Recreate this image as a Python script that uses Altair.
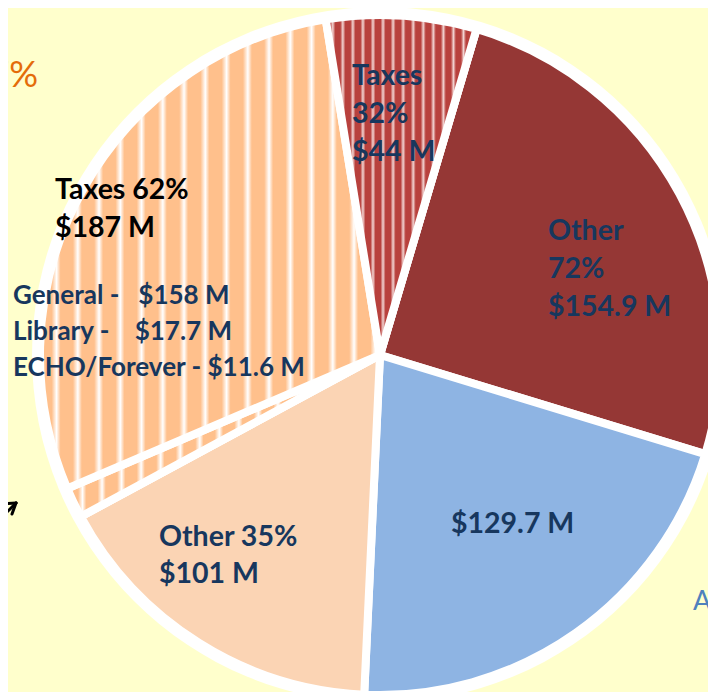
import math
import altair as alt
import pandas as pd

# ---- data (millions of dollars) ----
categories = ["Other 72%", "$129.7 M", "Other 35%", "ECHO/Forever", "Taxes 62%", "Taxes 32%"]
values = [154.9, 129.7, 101.0, 9.0, 178.0, 44.0]
solid_colors = ["#953735", "#8EB4E3", "#FBD4B4", "#FFC08C", "#FFC08C", "#B8413D"]

label_taxes32 = "Taxes\n32%\n$44 M"
label_other72 = "Other\n72%\n$154.9 M"
label_blue = "$129.7 M"
label_other35 = "Other 35%\n$101 M"
label_taxes62 = "Taxes 62%\n$187 M"
label_funds = ("General -\u00a0\u00a0 $158 M\n"
               "Library -\u00a0\u00a0\u00a0 $17.7 M\n"
               "ECHO/Forever - $11.6 M")

df = pd.DataFrame({"category": categories, "value": values,
                   "order": list(range(len(categories)))})
total = sum(values)

BG = "#FFFFCC"
NAVY = "#17375E"
CX, CY, R = 372, 347, 340
a0 = math.radians(16.5)

base = (
    alt.Chart(df)
    .transform_window(cum="sum(value)", sort=[alt.SortField("order")], frame=[None, 0])
    .transform_calculate(start="datum.cum - datum.value")
)
theta = alt.Theta("start:Q", scale=alt.Scale(domain=[0, total], range=[a0, a0 + 2 * math.pi]))


def stripe_gradient(col, light, n, lo=0.55, mid=0.75, hi=0.95):
    stops = []
    for k in range(n):
        s = k / n
        for f, c in [(0.0, col), (lo, col), (mid, light), (hi, col)]:
            stops.append(alt.GradientStop(offset=round(s + f / n, 5), color=c))
    stops.append(alt.GradientStop(offset=1.0, color=col))
    return alt.Gradient(gradient="linear", x1=0, x2=1, y1=0, y2=0, stops=stops)


ring = alt.Chart(pd.DataFrame({"d": [0]})).mark_arc(
    radius=R + 8, theta=0, theta2=2 * math.pi, color="white"
).encode(x=alt.value(CX), y=alt.value(CY))

slices = base.mark_arc(radius=R, stroke="white", strokeWidth=8).encode(
    theta=theta,
    theta2="cum:Q",
    color=alt.Color("category:N", scale=alt.Scale(domain=categories, range=solid_colors), legend=None),
    x=alt.value(CX),
    y=alt.value(CY),
)

orange_stripes = base.transform_filter(
    alt.FieldOneOfPredicate(field="category", oneOf=["ECHO/Forever", "Taxes 62%"])
).mark_arc(radius=R, stroke="white", strokeWidth=8,
           color=stripe_gradient("#FFC08C", "#FFFFFF", 16, 0.55, 0.78, 0.97)).encode(
    theta=theta, theta2="cum:Q", x=alt.value(CX), y=alt.value(CY)
)

red_stripes = base.transform_filter(
    alt.FieldEqualPredicate(field="category", equal="Taxes 32%")
).mark_arc(radius=R, stroke="white", strokeWidth=8,
           color=stripe_gradient("#B8413D", "#F2D4D2", 15, 0.45, 0.7, 0.95)).encode(
    theta=theta, theta2="cum:Q", x=alt.value(CX), y=alt.value(CY)
)


def label(text, x, y, size=28.5, color=NAVY, weight="bold", lh=38, align="left"):
    return alt.Chart(pd.DataFrame({"t": [text]})).mark_text(
        font="Lato", fontSize=size, fontWeight=weight, color=color, align=align,
        baseline="alphabetic", lineBreak="\n", lineHeight=lh,
    ).encode(text="t:N", x=alt.value(x), y=alt.value(y))


def seg(x, y, x2, y2):
    return alt.Chart(pd.DataFrame({"d": [0]})).mark_rule(color="black", strokeWidth=3, strokeCap="round").encode(
        x=alt.value(x), y=alt.value(y), x2=alt.value(x2), y2=alt.value(y2)
    )


texts = [
    label(label_taxes32, 344, 77),
    label(label_other72, 540, 232),
    label(label_blue, 443, 525),
    label(label_other35, 151, 538, lh=37),
    label(label_taxes62, 47, 191, color="black"),
    label(label_funds, 5, 296, size=26, lh=36),
    label("27%", 30, 79, size=36, color="#E46C0A", weight="normal", align="right"),
    label("A", 685, 602, size=27, color="#4F81BD", weight="normal"),
]
arrow = [seg(-10, 513, 8, 495), seg(-6, 496, 8, 495), seg(4, 506, 8, 495)]

chart = alt.layer(ring, slices, orange_stripes, red_stripes, *texts, *arrow).properties(
    width=700, height=684, background=BG, padding=0, autosize="none"
).configure_view(stroke=None, fill=BG)

chart.save("out.html", embed_options={"renderer": "svg", "actions": False})
